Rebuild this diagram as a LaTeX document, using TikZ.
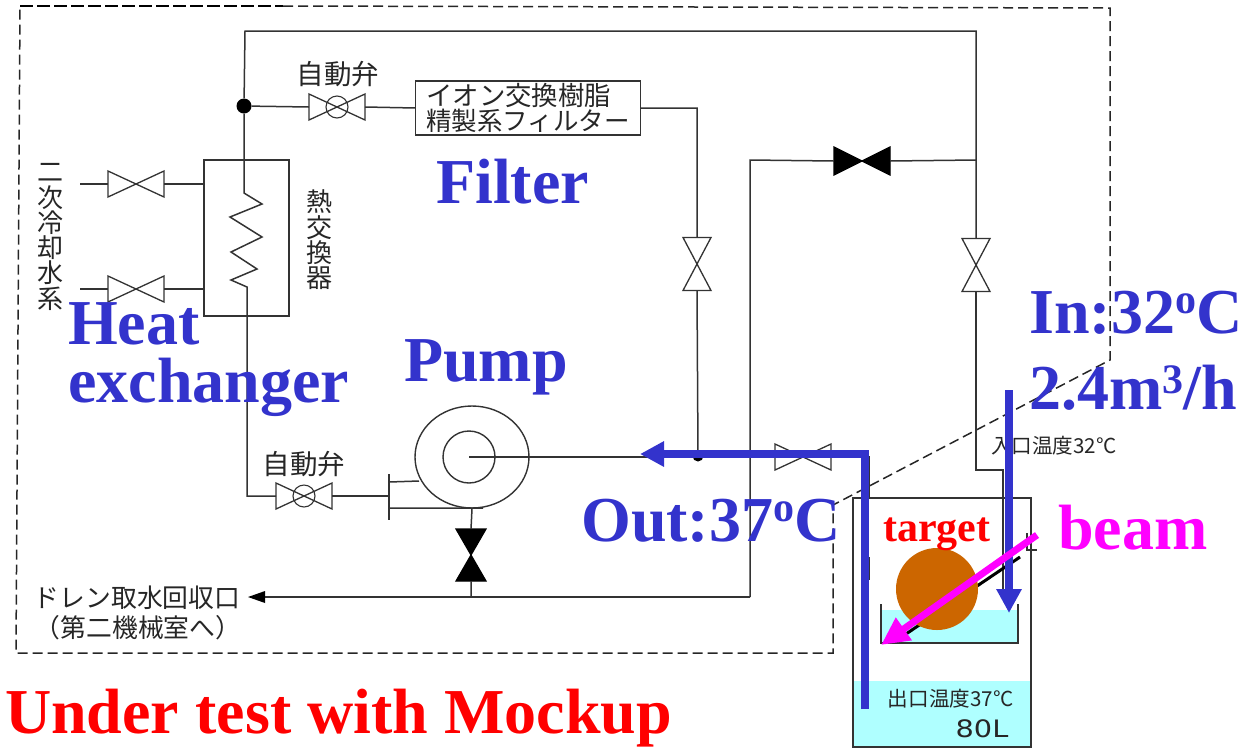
\documentclass[tikz,border=0pt]{standalone}
\usepackage{fontspec}
\setmainfont{Liberation Serif}
\newfontfamily\jpf{Noto Sans CJK JP}
\newfontfamily\sanf{DejaVu Sans}
\usetikzlibrary{arrows.meta,calc,shapes.geometric}
\definecolor{bluelab}{HTML}{3333CC}
\definecolor{pipec}{HTML}{333333}
\definecolor{waterc}{HTML}{AFFFFF}
\definecolor{targetc}{HTML}{CC6600}
\definecolor{beamc}{HTML}{FF00FF}
\tikzset{
 pipe/.style={draw=pipec,line width=1.5pt},
 vbox/.style={rectangle,inner sep=0pt,outer sep=0pt},
 dash1/.style={draw=black!85,line width=1.5pt,dash pattern=on 10pt off 5pt},
 jp/.style={font=\jpf\fontsize{#1}{#1}\selectfont,text=black!85,inner sep=0pt},
 jpv/.style={font=\jpf\fontsize{26}{25.3}\selectfont,text=black!85,inner sep=0pt,align=center},
 big/.style={font=\bfseries\fontsize{64}{64}\selectfont,text=bluelab,anchor=base west,inner sep=0pt},
 bluearrow/.style={draw=bluelab,line width=8pt,-{Triangle[length=24pt,width=24pt]}},
}
\newcommand{\valveH}[3]{\node[vbox,minimum width=56pt,minimum height=26pt] (#1) at (#2,#3) {};
 \draw[pipe,fill=white,line width=1.3pt] (#1.south west)--(#1.north east)--(#1.south east)--(#1.north west)--cycle;}
\newcommand{\valveV}[3]{\node[vbox,minimum width=28pt,minimum height=53pt] (#1) at (#2,#3) {};
 \draw[pipe,fill=white,line width=1.3pt] (#1.north west)--(#1.south east)--(#1.south west)--(#1.north east)--cycle;}
\newcommand{\autoV}[3]{\valveH{#1}{#2}{#3}\node[draw=pipec,line width=1.1pt,circle,minimum size=22pt,inner sep=0pt] at (#1) {};}
\newcommand{\sups}[2]{\raisebox{#1}{\fontsize{42}{42}\selectfont #2}}
\begin{document}
\begin{tikzpicture}[x=1pt,y=-1pt]
\useasboundingbox (0,0) rectangle (1246,748);
% dashed enclosure
\coordinate (d1) at (20,6);\coordinate (d2) at (283,6);\coordinate (d3) at (1110,8);\coordinate (d4) at (1110,360);
\coordinate (d5) at (833,505);\coordinate (d6) at (833,653);\coordinate (d7) at (16,653);
\draw[dash1] (d2)--(d3)--(d4)--(d5)--(d6)--(d7)--(d1);
\draw[dash1,draw=black,line width=1.9pt,dash pattern=on 13pt off 4pt] (d1)--(d2);
% tank
\fill[waterc] (853,681) rectangle (1031,747);
\node[vbox,draw=pipec,line width=1.6pt,minimum width=178pt,minimum height=249pt] (tank) at (942,622.5) {};
% tray
\fill[waterc] (881,610) rectangle (1018,643);
\draw[pipe] (881,604)--(881,643)--(1018,643)--(1018,604);
% equipment nodes
\node[vbox,draw=pipec,line width=1.5pt,minimum width=85pt,minimum height=156pt] (hx) at (246.5,238) {};
\node[vbox,draw=pipec,line width=1.5pt,minimum width=225pt,minimum height=54pt,align=left,jp=25.5] (filt) at (528,108) {{\fontsize{26.4}{26}\selectfont イオン交換樹脂}\\精製系フィルター};
\node[circle,fill=black,minimum size=15pt,inner sep=0pt] (j1) at (244,106) {};
\node[circle,fill=black,minimum size=11pt,inner sep=0pt] (j2) at (698,456) {};
\autoV{av1}{337}{107}
\autoV{av2}{304}{496}
\valveH{v1}{136}{184}
\valveH{v2}{136}{289}
\valveH{v3}{803}{457}
\valveV{v4}{697}{264}
\valveV{v5}{976}{265}
% black valves
\node[vbox,minimum width=56pt,minimum height=28pt] (bv1) at (862,161) {};
\filldraw[black,line width=1.2pt] (bv1.south west)--(bv1.north east)--(bv1.south east)--(bv1.north west)--cycle;
\node[vbox,minimum width=30pt,minimum height=52pt] (bv2) at (471,555) {};
\filldraw[black,line width=1.2pt] (bv2.north west)--(bv2.south east)--(bv2.south west)--(bv2.north east)--cycle;
% pump
\node[draw=pipec,line width=1.4pt,ellipse,minimum width=114pt,minimum height=102pt,inner sep=0pt,fill=white] (pump) at (472,457) {};
\node[draw=pipec,line width=1.4pt,circle,minimum size=52pt,inner sep=0pt] (pin) at (469,457) {};
\coordinate (fl1) at (389,474);\coordinate (fl2) at (389,520);
\draw[pipe] (fl1)--(fl2);
\coordinate (fl3) at (389,482);\coordinate (fl4) at (419,481);\coordinate (fl5) at (389,508);\coordinate (fl6) at (483,508);
\draw[pipe] (fl3)--(fl4) (fl5)--(fl6);
% pipes
\coordinate (t1) at (245,31);\coordinate (t2) at (976,31);
\draw[pipe] (j1)--(t1)--(t2)--(v5.north);
\draw[pipe] (j1)--(av1.west) (av1.east)--(filt.west);
\draw[pipe] (filt.east)--(697,108)--(v4.north) (v4.south)--(j2);
\coordinate (c1) at (976,160);\coordinate (c2) at (750,160);\coordinate (c3) at (750,597);
\draw[pipe] (c1)--(bv1.east) (bv1.west)--(c2)--(c3);
\coordinate (drain) at (263,597);
\draw[pipe] (c3)--(drain);
\fill[black] (248,597)--(265,591)--(265,603)--cycle;
\coordinate (dj) at (471,597);
\draw[pipe] (pump.south)--(bv2.north) (bv2.south)--(dj);
\coordinate (sl) at (80,184);\coordinate (sl2) at (80,289);
\draw[pipe] (sl)--(v1.west) (v1.east)--(hx.west|-v1) (sl2)--(v2.west) (v2.east)--(hx.west|-v2);
\draw[pipe] (j1)--(244,193)--(262,204)--(230,217)--(262,237)--(231,252)--(257,269)--(231,280)--(247,287)--(247,496)--(av2.west);
\draw[pipe] (av2.east)--(fl1|-av2);
\draw[pipe] (pin.center)--(v3.west) (v3.east)--(869,457)--(869,498);
\draw[pipe] (976,292)--(976,470)--(1003,470)--(1003,590);
\draw[pipe,line width=1.6pt] (869,557)--(869,580);
% Japanese labels
\node[jp=27.5] (l1) at (338,74) {自動弁};
\node[jp=27.5] (l2) at (304,464) {自動弁};
\node[jpv] (l3) at (50,237) {二\\次\\冷\\却\\水\\系};
\node[jpv] (l4) at (319,240) {熱\\交\\換\\器};
\node[jp=25.8] (l5) at (137,598) {ドレン取水回収口};
\node[jp=25.8] (l6) at (138,628) {（第二機械室へ）};
\node[font=\jpf\fontsize{20.6}{20.6}\selectfont,text=black!85,inner sep=0pt] (l7) at (1054,446) {入口温度32°C};
\node[font=\jpf\fontsize{20.6}{20.6}\selectfont,text=black!85,inner sep=0pt] (l8) at (951,699) {出口温度37°C};
\node[font=\sanf\fontsize{24}{24}\selectfont,text=black!85,inner sep=0pt] (l9) at (982,729) {\scalebox{1.2}[1]{80L}};
% target and beam
\draw[black,line width=3pt] (1020,557)--(903,636);
\coordinate (bf) at (1027,533);
\draw[pipec,line width=1.2pt] (bf)--(1027,550)--(1037,550);
\node[circle,fill=targetc,minimum size=82pt,inner sep=0pt] (tg) at (937,589) {};
% overlays
\coordinate (ia) at (1009,390);\coordinate (ib) at (1009,613);
\draw[bluearrow] (ia)--(ib);
\coordinate (oa) at (865,709);\coordinate (ob) at (865,454);\coordinate (oc) at (640,454);
\draw[bluearrow,line join=miter] (oa)--(ob)--(oc);
\coordinate (ba) at (1037,535);\coordinate (bb) at (881,645);
\draw[draw=beamc,line width=7pt,-{Triangle[length=28pt,width=26pt]}] (ba)--(bb);
% big labels
\node[big] (h1) at (436,203) {Filter};
\node[big] (h2) at (68,344) {Heat};
\node[big] (h3) at (68,402) {exchanger};
\node[big] (h4) at (404,381) {Pump};
\node[big] (h5) at (581,541) {Out:37\sups{20pt}{o}C};
\node[big] (h6) at (1029,333) {In:32\sups{20pt}{o}C};
\node[big] (h7) at (1029,409) {2.4m\sups{16pt}{3}/h};
\node[big,text=red,font=\bfseries\fontsize{64}{64}\selectfont] (h8) at (5,733) {Under test with Mockup};
\node[big,text=red,font=\bfseries\fontsize{42}{42}\selectfont] (h9) at (883,541) {target};
\node[big,text=beamc] (h10) at (1058,549) {beam};
\end{tikzpicture}
\end{document}
